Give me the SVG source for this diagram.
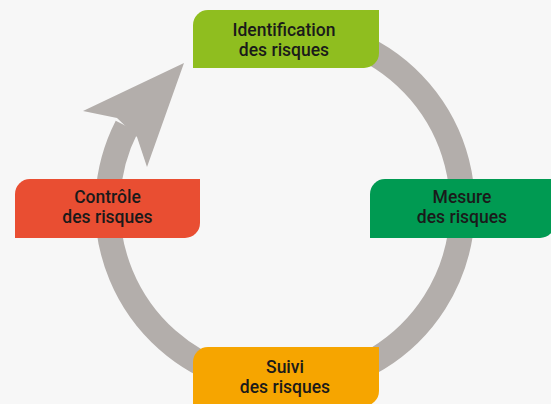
<svg xmlns="http://www.w3.org/2000/svg" width="551" height="404" viewBox="0 0 551 404">
  <style>
    .lbl { font-family: Roboto, "Liberation Sans", sans-serif; font-weight: 500; font-size: 17.5px; fill: #1a1a1a; text-anchor: middle; }
    .ring { fill: none; stroke: #b3aeab; stroke-width: 25; }
  </style>
  <rect x="0" y="0" width="551" height="404" fill="#f7f7f7"/>
  <g id="connectors">
    <path class="ring" d="M 285 29.5 A 177.5 177.5 0 1 1 126.85 126.4"/>
    <polygon points="184,63 83,111 117,118 137,137 147,167" fill="#b3aeab"/>
  </g>
  <g id="identification">
    <path d="M 208 10 H 379 V 53 A 15 15 0 0 1 364 68 H 193 V 25 A 15 15 0 0 1 208 10 Z" fill="#8fbe1f"/>
    <text class="lbl" x="284" y="36">Identification</text>
    <text class="lbl" x="284" y="56">des risques</text>
  </g>
  <g id="mesure">
    <path d="M 385 179 H 555 V 223 A 15 15 0 0 1 540 238 H 370 V 194 A 15 15 0 0 1 385 179 Z" fill="#009a52"/>
    <text class="lbl" x="462" y="203">Mesure</text>
    <text class="lbl" x="462" y="223">des risques</text>
  </g>
  <g id="suivi">
    <path d="M 208 347 H 379 V 391 A 15 15 0 0 1 364 406 H 193 V 362 A 15 15 0 0 1 208 347 Z" fill="#f6a500"/>
    <text class="lbl" x="285" y="373">Suivi</text>
    <text class="lbl" x="285" y="393">des risques</text>
  </g>
  <g id="controle">
    <path d="M 30 179 H 200 V 223 A 15 15 0 0 1 185 238 H 15 V 194 A 15 15 0 0 1 30 179 Z" fill="#e94e32"/>
    <text class="lbl" x="107.5" y="203">Contrôle</text>
    <text class="lbl" x="107.5" y="223">des risques</text>
  </g>
</svg>
